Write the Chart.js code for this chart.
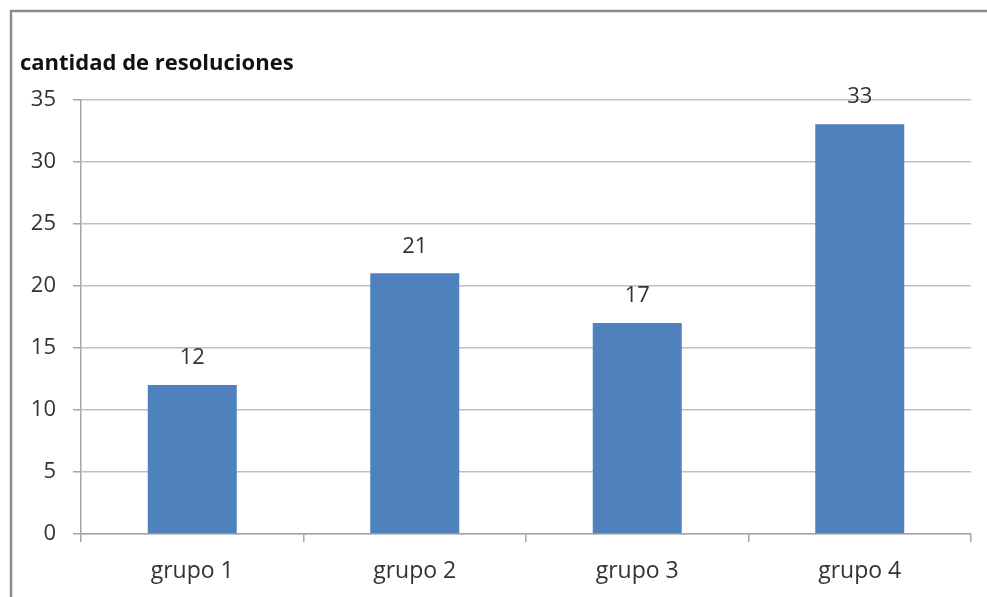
<!DOCTYPE html>
<html>
<head>
<meta charset="utf-8">
<script src="https://cdn.jsdelivr.net/npm/chart.js@4"></script>
<style>
  html, body { margin: 0; padding: 0; background: #fff; }
  #wrap { position: relative; width: 987px; height: 597px; }
</style>
</head>
<body>
<div id="wrap"><canvas id="chart" width="987" height="597"></canvas></div>
<script>
var categories = ['grupo 1', 'grupo 2', 'grupo 3', 'grupo 4'];
var resoluciones = [12, 21, 17, 33];
var yTicks = [0, 5, 10, 15, 20, 25, 30, 35];

var textColor = '#333333';
var fontFamily = '"Open Sans", "Noto Sans", sans-serif';

// grey frame round the chart (left and top edges only, like the picture)
var framePlugin = {
    id: 'frame',
    beforeDraw: function (chart) {
        var ctx = chart.ctx;
        ctx.save();
        ctx.strokeStyle = '#8c8c8c';
        ctx.lineWidth = 2.5;
        ctx.beginPath();
        ctx.moveTo(11, 597);
        ctx.lineTo(11, 11);
        ctx.lineTo(987, 11);
        ctx.stroke();
        ctx.restore();
    }
};

// value above each bar
var valuePlugin = {
    id: 'values',
    afterDatasetsDraw: function (chart) {
        var ctx = chart.ctx;
        var meta = chart.getDatasetMeta(0);
        ctx.save();
        ctx.fillStyle = textColor;
        ctx.font = '22px ' + fontFamily;
        ctx.textAlign = 'center';
        ctx.textBaseline = 'middle';
        meta.data.forEach(function (bar, i) {
            ctx.fillText(String(resoluciones[i]), bar.x, bar.y - 27);
        });
        ctx.restore();
    }
};

var ctx = document.getElementById('chart').getContext('2d');
var myChart = new Chart(ctx, {
    type: 'bar',
    data: {
        labels: categories,
        datasets: [{
            label: 'cantidad de resoluciones',
            data: resoluciones,
            backgroundColor: '#4F81BD',
            borderWidth: 0,
            categoryPercentage: 0.8,
            barPercentage: 0.5
        }]
    },
    plugins: [framePlugin, valuePlugin],
    options: {
        responsive: false,
        animation: false,
        layout: {
            padding: { left: 20, right: 16, top: 10, bottom: 0 }
        },
        plugins: {
            legend: { display: false },
            tooltip: { enabled: false },
            title: {
                display: true,
                text: 'cantidad de resoluciones',
                align: 'start',
                color: '#111111',
                font: { family: fontFamily, size: 22, weight: 'bold', lineHeight: 1.2 },
                padding: { top: 41, bottom: 22 }
            }
        },
        scales: {
            y: {
                min: 0,
                max: 35,
                afterBuildTicks: function (scale) {
                    scale.ticks = yTicks.map(function (v) { return { value: v }; });
                },
                afterFit: function (scale) { scale.width = 61; },
                ticks: {
                    color: textColor,
                    padding: 17,
                    font: { family: fontFamily, size: 22 }
                },
                grid: {
                    color: '#bfbfbf',
                    lineWidth: 1.5,
                    tickLength: 8,
                    tickColor: '#a6a6a6'
                },
                border: { color: '#a6a6a6', width: 1.5 }
            },
            x: {
                afterFit: function (scale) { scale.height = 63; },
                ticks: {
                    color: textColor,
                    padding: 16,
                    font: { family: fontFamily, size: 23 }
                },
                grid: {
                    offset: true,
                    drawOnChartArea: false,
                    tickLength: 8,
                    tickColor: '#a6a6a6',
                    lineWidth: 1.5
                },
                border: { color: '#a6a6a6', width: 1.5 }
            }
        }
    }
});
</script>
</body>
</html>
